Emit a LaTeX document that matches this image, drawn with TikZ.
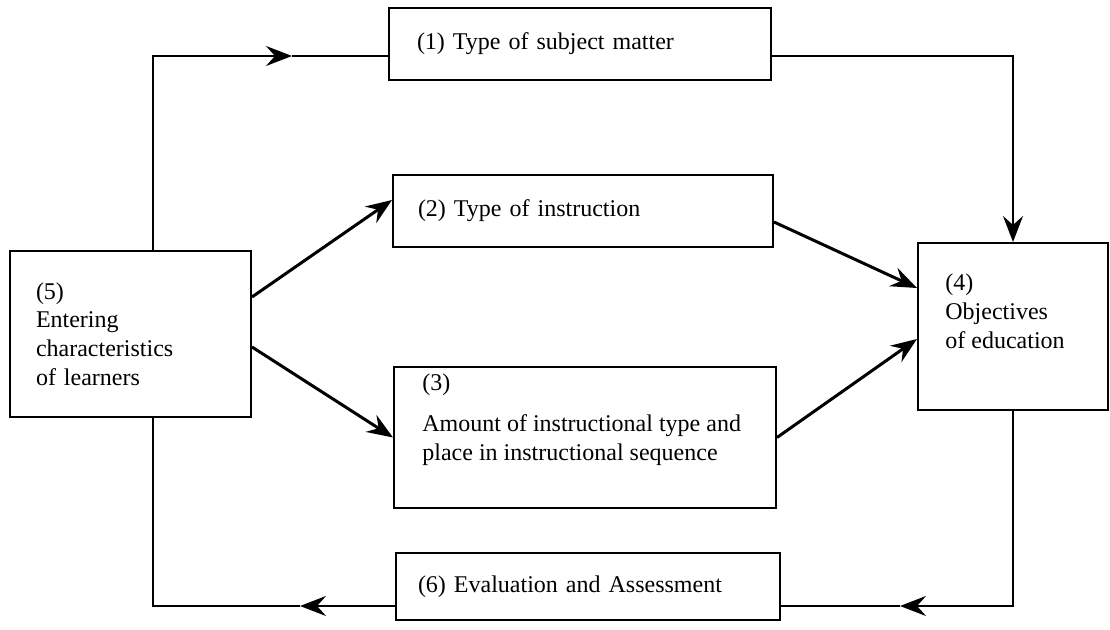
\documentclass[tikz,border=0pt]{standalone}
\usepackage{fontspec}
\setmainfont{Liberation Serif}
\usetikzlibrary{arrows.meta, calc}

\begin{document}
\begin{tikzpicture}[
  x=0.5pt, y=-0.5pt,
  box/.style={draw, line width=1pt, inner xsep=13pt, inner ysep=0pt,
              align=left, font=\fontsize{12}{14.3}\selectfont},
  txt/.style={inner sep=0pt, align=left, font=\fontsize{12}{14.6}\selectfont},
  tip/.style={-{Stealth[length=13pt, width=10pt, inset=4.5pt]}},
  flow/.style={tip, line width=1.5pt},
  link/.style={line width=1pt}]

  \useasboundingbox (0,0) rectangle (1110,630);

  \node[box, minimum width=191pt, minimum height=36pt, inner xsep=14pt,
        text width=163pt] (b1) at (580, 44) {(1) Type of subject matter};
  \node[box, minimum width=190pt, minimum height=36pt, inner xsep=12.5pt,
        text width=165pt] (b2) at (583, 211) {(2) Type of instruction};
  \node[box, minimum width=191pt, minimum height=70.5pt] (b3) at (585, 437.5) {};
  \node[txt, anchor=north west] (t3) at (422, 373)
    {(3)\\[6pt]Amount of instructional type and\\place in instructional sequence};
  \node[box, minimum width=95pt, minimum height=83.5pt] (b4) at (1013, 326.5) {};
  \node[txt, anchor=north west] (t4) at (945, 273)
    {(4)\\Objectives\\of education};
  \node[box, minimum width=120.5pt, minimum height=83pt,
        text width=94.5pt] (b5) at (130.5, 334)
    {(5)\\Entering\\characteristics\\of learners};
  \node[box, minimum width=192pt, minimum height=33.5pt, inner xsep=11pt,
        text width=170pt] (b6) at (588, 586.5) {(6) Evaluation and Assessment};

  \coordinate (k1) at (153, 56);
  \coordinate (m1) at (292, 56);
  \coordinate (m7) at (900, 606);
  \coordinate (m8) at (300, 606);
  \coordinate (k8) at (153, 606);

  % feed-forward round the top
  \draw[link, tip] (b5.north -| k1) -- (k1) -- (m1);
  \draw[link] (m1) -- (b1.west |- m1);
  \draw[link, tip] (b1.east |- k1) -| (b4.north);

  \draw[flow] ($(b5.east)+(0,-37)$) -- ($(b2.west)+(0,-11)$);
  \draw[flow] ($(b5.east)+(0,13)$) -- (b3.west);
  \draw[flow] ($(b2.east)+(0,11)$) -- ($(b4.west)+(0,-38.5)$);
  \draw[flow] (b3.east) -- ($(b4.west)+(0,12.5)$);

  % feedback round the bottom
  \draw[link, tip] (b4.south) |- (m7);
  \draw[link] (m7) -- (b6.east |- m7);
  \draw[link, tip] (b6.west |- m8) -- (m8);
  \draw[link] (m8) -- (k8) -- (b5.south -| k8);
\end{tikzpicture}
\end{document}
